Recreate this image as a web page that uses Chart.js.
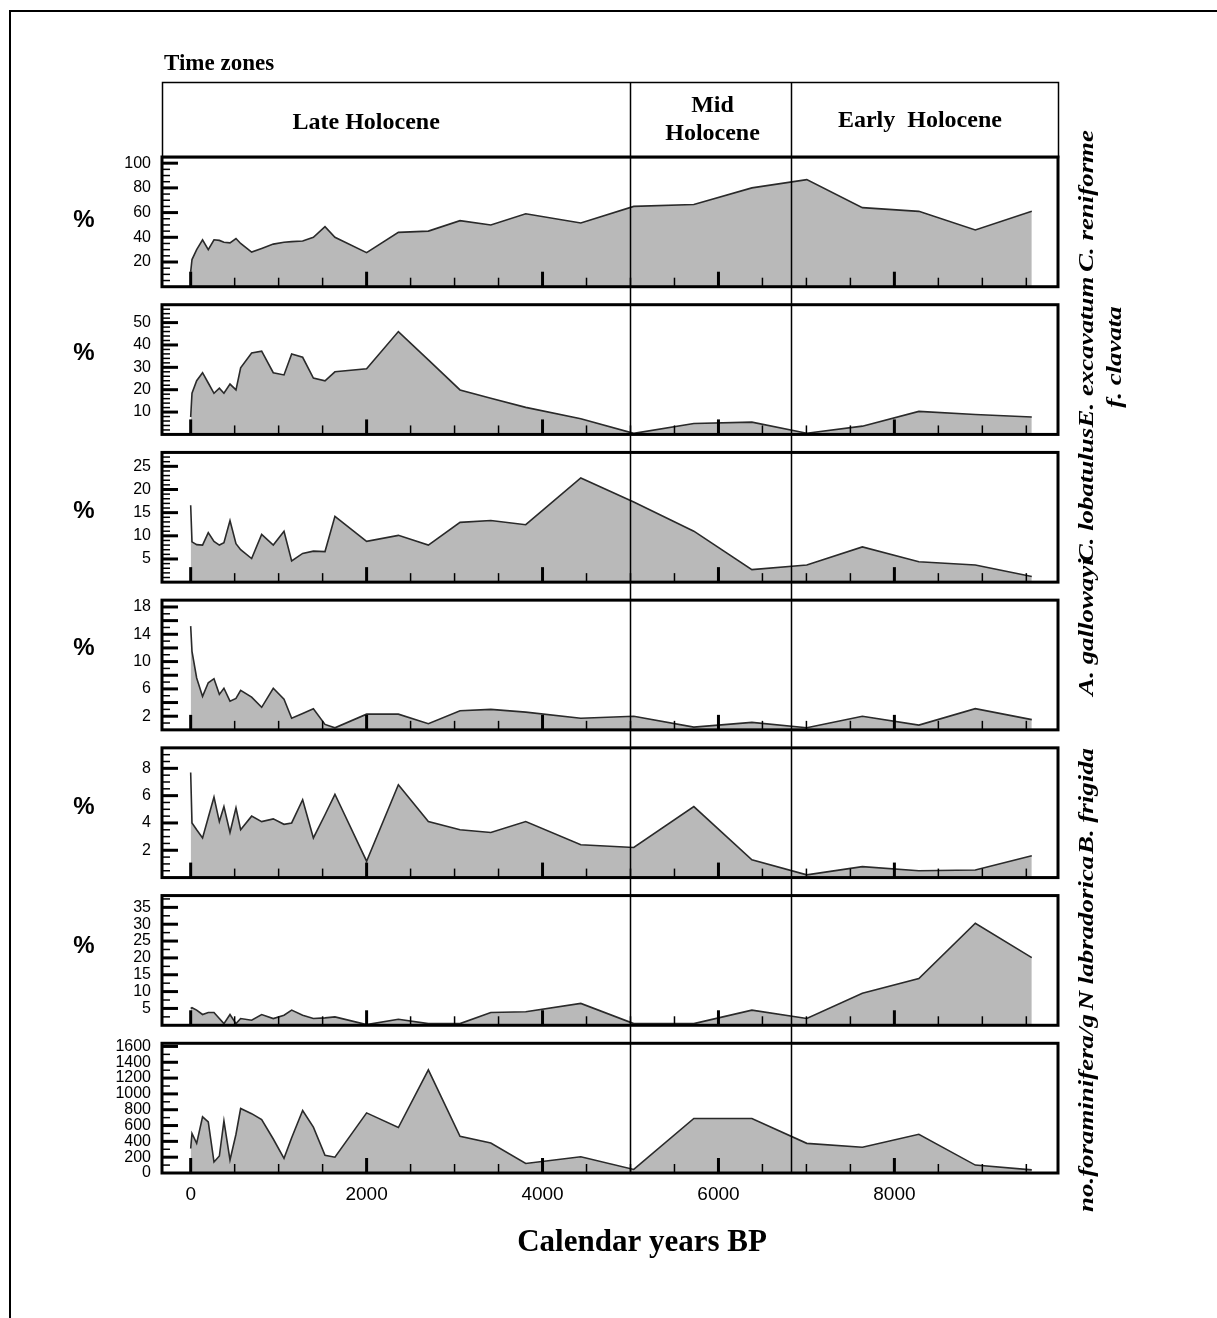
<!DOCTYPE html>
<html>
<head>
<meta charset="utf-8">
<script src="https://cdn.jsdelivr.net/npm/chart.js@4.4.1/dist/chart.umd.min.js"></script>
<style>
  html, body { margin: 0; padding: 0; background: #fff; }
  #wrap { position: relative; width: 1217px; height: 1318px; overflow: hidden; }
  #frame { position: absolute; left: 9px; top: 10px; width: 1300px; height: 1400px; border-left: 2px solid #000; border-top: 2px solid #000; }
  #core { position: absolute; left: 0; top: 0; }
</style>
</head>
<body>
<div id="wrap">
  <div id="frame"></div>
  <canvas id="core" width="1217" height="1318"></canvas>
</div>
<script>
// calendar years BP of the samples (shared by all panels)
const ages = [0, 15, 68, 135, 200, 265, 326, 378, 447, 515, 568, 693, 807, 939, 1061, 1148, 1273, 1395, 1527, 1640,
  2000, 2361, 2702, 3062, 3412, 3809, 4435, 5037, 5720, 6380, 7004, 7636, 8278, 8920, 9562];

const reniforme = [12, 22, 30, 38, 30, 38, 37.5, 36, 35.5, 39, 35, 28, 31, 34.5, 36, 36.5, 37, 40, 48.6, 40,
  27.6, 44, 45, 53.5, 50, 59, 51.6, 65, 66.5, 80, 86.7, 64, 61, 46, 61];
const excavatum = [7.8, 18.4, 24, 27.6, 23, 18.4, 20.7, 18.4, 22.5, 19.9, 29.8, 36.4, 37.2, 27.6, 26.6, 36, 34.5, 25.2, 24, 28,
  29.4, 46, 33.3, 19.9, 16.2, 12.1, 7, 0.5, 4.9, 5.5, 0.5, 3.7, 10.3, 8.9, 7.8];
const lobatulus = [16.6, 8.7, 8.1, 8, 10.7, 8.8, 8, 8.5, 13.3, 8.3, 7, 5.1, 10.3, 8, 11, 4.6, 6.2, 6.7, 6.6, 14.2,
  8.8, 10.1, 8, 12.9, 13.3, 12.4, 22.5, 17.3, 11, 2.7, 3.7, 7.6, 4.4, 3.7, 1.2];
const gallowayi = [15.2, 11.5, 7.6, 4.9, 6.9, 7.5, 5.2, 6.1, 4.2, 4.6, 5.8, 4.8, 3.3, 6.1, 4.5, 1.7, 2.4, 3.1, 0.8, 0.3,
  2.3, 2.3, 0.9, 2.8, 3.0, 2.6, 1.7, 2.0, 0.4, 1.1, 0.3, 2.0, 0.7, 3.1, 1.5];
const frigida = [7.7, 4, 3.5, 2.9, 4.4, 5.9, 4.1, 5.2, 3.3, 5.1, 3.5, 4.5, 4.1, 4.3, 3.9, 4.0, 5.7, 2.9, 4.6, 6.1,
  1.2, 6.8, 4.1, 3.5, 3.3, 4.1, 2.4, 2.2, 5.2, 1.3, 0.2, 0.8, 0.5, 0.55, 1.6];
const labradorica = [5.0, 5.2, 4.5, 3.2, 3.8, 3.8, 2, 0.5, 3.2, 0.5, 2.0, 1.5, 3.2, 2.0, 3, 4.5, 3, 2.0, 2.2, 2.5,
  0.2, 1.8, 0.5, 0.5, 3.8, 4.0, 6.5, 0.5, 0.5, 4.5, 2.0, 9.5, 13.9, 30.3, 20.1];
const foramPerGram = [310, 500, 375, 710, 645, 140, 215, 660, 165, 490, 815, 750, 675, 430, 185, 445, 790, 580, 225, 200,
  760, 575, 1305, 465, 380, 120, 205, 45, 690, 690, 375, 325, 490, 100, 40];

const reniformeTicks = [20, 40, 60, 80, 100];
const excavatumTicks = [10, 20, 30, 40, 50];
const lobatulusTicks = [5, 10, 15, 20, 25];
const gallowayiTicks = [2, 6, 10, 14, 18];
const frigidaTicks = [2, 4, 6, 8];
const labradoricaTicks = [5, 10, 15, 20, 25, 30, 35];
const foramTicks = [0, 200, 400, 600, 800, 1000, 1200, 1400, 1600];
const yearTicks = [0, 2000, 4000, 6000, 8000];

const zoneBounds = [5000, 6820];

const series = [
  { name: ['C. reniforme'], unit: '%', values: reniforme, ticks: reniformeTicks, max: 105, major: 20, minor: 5 },
  { name: ['E. excavatum', 'f. clavata'], unit: '%', values: excavatum, ticks: excavatumTicks, max: 58, major: 10, minor: 2 },
  { name: ['C. lobatulus'], unit: '%', values: lobatulus, ticks: lobatulusTicks, max: 28, major: 5, minor: 1 },
  { name: ['A. gallowayi'], unit: '%', values: gallowayi, ticks: gallowayiTicks, max: 19, major: 2, minor: 1 },
  { name: ['B. frigida'], unit: '%', values: frigida, ticks: frigidaTicks, max: 9.5, major: 2, minor: 0.5 },
  { name: ['N labradorica'], unit: '%', values: labradorica, ticks: labradoricaTicks, max: 38.5, major: 5, minor: 2.5 },
  { name: ['no.foraminifera/g'], unit: '', values: foramPerGram, ticks: foramTicks, max: 1640, major: 200, minor: 100 }
];

// layout bits (pixels)
const PANEL_H = 129.7, GAP = 18;
const unitY = [63, 49, 59, 48, 60, 51];
const nameY = [201, 352, 495, 627, 801, 933, 1113];

const narrow = "'Liberation Sans Narrow', 'Liberation Sans', Arial, sans-serif";
const serif = "'Liberation Serif', 'Times New Roman', serif";

const scales = {
  x: {
    type: 'linear', position: 'bottom', min: -326, max: 9860,
    afterBuildTicks: s => { s.ticks = yearTicks.map(v => ({ value: v })); },
    afterFit: s => { s.height = 100; },
    grid: { display: false, drawTicks: false },
    border: { display: false },
    ticks: { padding: 10, color: '#000', autoSkip: false, maxRotation: 0,
      font: { family: "'Liberation Sans', Arial, sans-serif", size: 19 },
      callback: v => String(v) }
  }
};

series.forEach((s, i) => {
  const last = i === series.length - 1;
  scales['y' + i] = {
    type: 'linear', position: 'left', stack: 'core',
    stackWeight: last ? PANEL_H : PANEL_H + GAP,
    weight: series.length - i,
    min: last ? 0 : -s.max * GAP / PANEL_H,
    max: s.max,
    afterBuildTicks: sc => { sc.ticks = s.ticks.map(v => ({ value: v })); },
    afterFit: sc => { sc.width = 60; },
    grid: { display: false, drawTicks: false },
    border: { display: false },
    ticks: { padding: 11, color: '#000', autoSkip: false,
      font: { family: narrow, size: 16 }, callback: v => String(v) }
  };
});

const datasets = series.map((s, i) => ({
  data: ages.map((a, k) => ({ x: a, y: s.values[k] })),
  xAxisID: 'x', yAxisID: 'y' + i,
  fill: 'origin',
  backgroundColor: '#b9b9b9',
  borderColor: '#2a2a2a',
  borderWidth: 1.6,
  pointRadius: 0,
  tension: 0
}));

const decor = {
  id: 'decor',
  afterDatasetsDraw(chart) {
    const { ctx, chartArea: ca, scales: sc } = chart;
    const xs = sc.x;
    const headTop = 82;
    ctx.save();
    ctx.strokeStyle = '#000';
    ctx.fillStyle = '#000';

    // zone lines through everything
    ctx.lineWidth = 1.5;
    zoneBounds.forEach(b => {
      const px = Math.round(xs.getPixelForValue(b)) + 0.5;
      ctx.beginPath(); ctx.moveTo(px, headTop); ctx.lineTo(px, ca.bottom); ctx.stroke();
    });

    // header box
    ctx.strokeRect(ca.left + 0.5, headTop + 0.5, ca.right - ca.left, ca.top - headTop);
    ctx.font = 'bold 23px ' + serif;
    ctx.textBaseline = 'middle';
    ctx.textAlign = 'left';
    ctx.fillText('Time zones', 164, 64);
    ctx.textAlign = 'center';
    ctx.font = 'bold 24px ' + serif;
    ctx.fillText('Late Holocene', xs.getPixelForValue(1995), 123);
    const mid = (xs.getPixelForValue(zoneBounds[0]) + xs.getPixelForValue(zoneBounds[1])) / 2;
    ctx.fillText('Mid', mid + 2, 106);
    ctx.fillText('Holocene', mid + 2, 134);
    ctx.fillText('Early  Holocene', xs.getPixelForValue(8290), 121);

    // x axis title
    ctx.font = 'bold 31px ' + serif;
    ctx.fillText('Calendar years BP', 642, 1243);

    series.forEach((s, i) => {
      const ys = sc['y' + i];
      const top = ys.getPixelForValue(s.max);
      const bot = ys.getPixelForValue(0);

      // y ticks inside the left edge
      for (let k = 1; k * s.minor < s.max - 1e-9; k++) {
        const v = k * s.minor;
        const major = Math.abs(v / s.major - Math.round(v / s.major)) < 1e-6;
        const py = ys.getPixelForValue(v);
        ctx.lineWidth = major ? 3 : 1.5;
        ctx.beginPath(); ctx.moveTo(ca.left, py); ctx.lineTo(ca.left + (major ? 16 : 8), py); ctx.stroke();
      }
      // x ticks inside the bottom edge
      for (let v = 0; v <= 9500; v += 500) {
        const major = v % 2000 === 0;
        const px = xs.getPixelForValue(v);
        ctx.lineWidth = major ? 3 : 1.5;
        ctx.beginPath(); ctx.moveTo(px, bot); ctx.lineTo(px, bot - (major ? 15 : 9)); ctx.stroke();
      }
      // panel frame
      ctx.lineWidth = 3;
      ctx.strokeRect(ca.left, top, ca.right - ca.left, bot - top);

      // unit label
      if (s.unit) {
        ctx.font = 'bold 24px ' + "'Liberation Sans', Arial, sans-serif";
        ctx.textAlign = 'center';
        ctx.fillText(s.unit, 84, top + unitY[i]);
      }
      // species label, rotated
      s.name.forEach((line, j) => {
        ctx.save();
        ctx.translate(1088 + j * 28, nameY[i] + j * 5);
        ctx.rotate(-Math.PI / 2);
        ctx.scale(1.28, 1);
        ctx.font = 'italic bold 21px ' + serif;
        ctx.textAlign = 'center';
        ctx.textBaseline = 'middle';
        ctx.fillText(line, 0, 0);
        ctx.restore();
      });
    });
    ctx.restore();
  }
};

new Chart(document.getElementById('core'), {
  type: 'line',
  data: { datasets },
  options: {
    responsive: false,
    animation: false,
    devicePixelRatio: 1,
    layout: { padding: { left: 102, right: 159, top: 157, bottom: 45 } },
    plugins: { legend: { display: false }, tooltip: { enabled: false } },
    scales
  },
  plugins: [decor]
});
</script>
</body>
</html>
